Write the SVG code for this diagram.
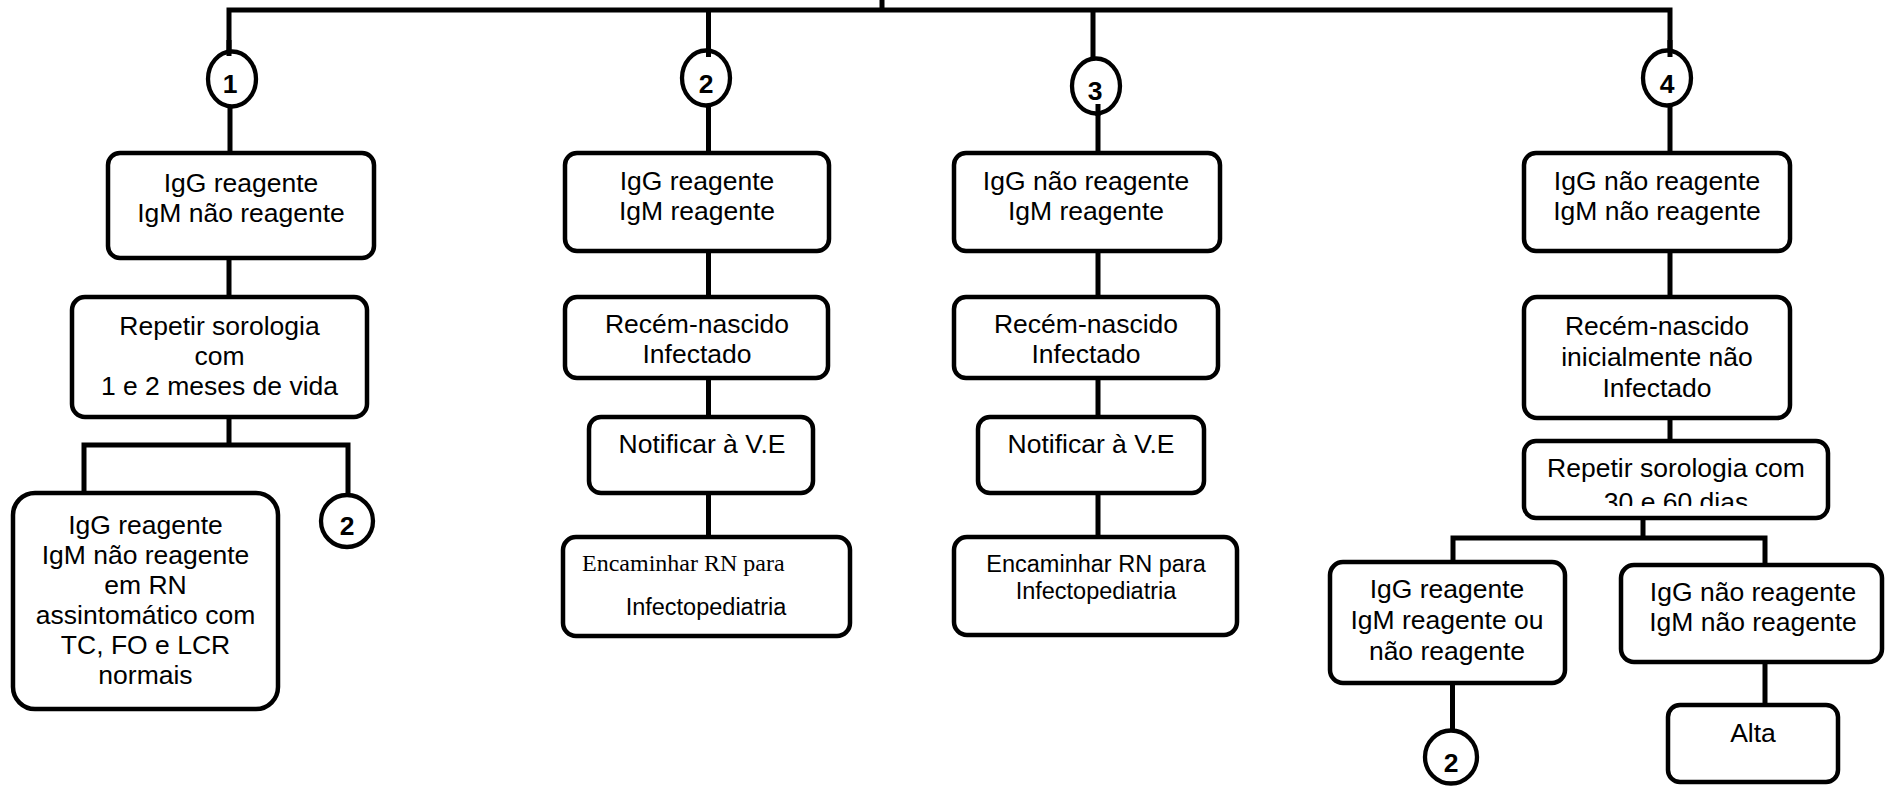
<svg xmlns="http://www.w3.org/2000/svg" width="1885" height="786" viewBox="0 0 1885 786">
<defs>
<style>
.box{fill:#fff;stroke:#000;stroke-width:4.5}
.ell{fill:#fff;stroke:#000;stroke-width:4.3}
.ln{fill:none;stroke:#000;stroke-width:5;stroke-linejoin:miter}
.t{font-family:"Liberation Sans",Arial,sans-serif;font-size:26.5px;fill:#000;text-anchor:middle}
.s{font-family:"Liberation Sans",Arial,sans-serif;font-size:23.5px;fill:#000;text-anchor:middle}
.tr{font-family:"Liberation Serif","Times New Roman",serif;font-size:24px;fill:#000}
.n{font-family:"Liberation Sans",Arial,sans-serif;font-size:26.5px;font-weight:bold;fill:#000;text-anchor:middle}
</style>
<clipPath id="clip30"><rect x="1525" y="444" width="300" height="62"/></clipPath>
</defs>
<rect width="1885" height="786" fill="#fff"/>

<g id="connectors">
<path class="ln" d="M882 0V10M229 56V10H1670V56"/>
<path class="ln" d="M708.5 10V57M1093 10V57"/>
<path class="ln" d="M230 108V153M229 259V297M229 417V445M84 493V445H348V495"/>
<path class="ln" d="M708.5 107V153M708.5 251V297M708.5 378V417M708.5 493V537"/>
<path class="ln" d="M1098 108V153M1098 251V297M1098 378V417M1098 493V537"/>
<path class="ln" d="M1670 106V153M1670 251V297M1670 418V441M1643 518V538M1453 562V538H1765V565M1452.5 683V731M1765 662V705"/>
</g>

<g id="c1"><ellipse class="ell" cx="232" cy="79" rx="24" ry="27.5"/><text class="n" x="230" y="93">1</text></g>
<g id="c2"><ellipse class="ell" cx="706" cy="78" rx="24" ry="27.5"/><text class="n" x="706" y="93">2</text></g>
<g id="c3"><ellipse class="ell" cx="1096" cy="86" rx="24" ry="27.5"/><text class="n" x="1095" y="100">3</text></g>
<g id="c4"><ellipse class="ell" cx="1667" cy="78" rx="24" ry="27.5"/><text class="n" x="1667" y="93">4</text></g>
<g id="stubs"><path class="ln" d="M229 40V56M708.5 40V57M1670 40V57M1098 104V116"/></g>

<g id="b1"><rect class="box" x="108" y="153" width="266" height="105" rx="12"/>
<text class="t" x="241" y="192">IgG reagente</text><text class="t" x="241" y="222">IgM não reagente</text></g>
<g id="r1"><rect class="box" x="72" y="297" width="295" height="120" rx="13"/>
<text class="t" x="219.5" y="335">Repetir sorologia</text><text class="t" x="219.5" y="365">com</text><text class="t" x="219.5" y="395">1 e 2 meses de vida</text></g>
<g id="bl1"><rect class="box" x="13" y="493" width="265" height="216" rx="22"/>
<text class="t" x="145.5" y="534">IgG reagente</text><text class="t" x="145.5" y="564">IgM não reagente</text><text class="t" x="145.5" y="594">em RN</text><text class="t" x="145.5" y="624">assintomático com</text><text class="t" x="145.5" y="654">TC, FO e LCR</text><text class="t" x="145.5" y="684">normais</text></g>
<g id="c1b"><circle class="ell" cx="347" cy="521" r="26"/><text class="n" x="347" y="535">2</text></g>

<g id="b2"><rect class="box" x="565" y="153" width="264" height="98" rx="12"/>
<text class="t" x="697" y="190">IgG reagente</text><text class="t" x="697" y="220">IgM reagente</text></g>
<g id="r2"><rect class="box" x="565" y="297" width="263" height="81" rx="12"/>
<text class="t" x="697" y="333">Recém-nascido</text><text class="t" x="697" y="363">Infectado</text></g>
<g id="n2"><rect class="box" x="589" y="417" width="224" height="76" rx="12"/>
<text class="t" x="702" y="453">Notificar à V.E</text></g>
<g id="e2"><rect class="box" x="563" y="537" width="287" height="99" rx="13"/>
<text class="tr" x="582" y="571">Encaminhar RN para</text><text class="s" x="706" y="615">Infectopediatria</text></g>

<g id="b3"><rect class="box" x="954" y="153" width="266" height="98" rx="12"/>
<text class="t" x="1086" y="190">IgG não reagente</text><text class="t" x="1086" y="220">IgM reagente</text></g>
<g id="r3"><rect class="box" x="954" y="297" width="264" height="81" rx="12"/>
<text class="t" x="1086" y="333">Recém-nascido</text><text class="t" x="1086" y="363">Infectado</text></g>
<g id="n3"><rect class="box" x="978" y="417" width="226" height="76" rx="12"/>
<text class="t" x="1091" y="453">Notificar à V.E</text></g>
<g id="e3"><rect class="box" x="954" y="537" width="283" height="98" rx="13"/>
<text class="s" x="1096" y="572">Encaminhar RN para</text><text class="s" x="1096" y="599">Infectopediatria</text></g>

<g id="b4"><rect class="box" x="1524" y="153" width="266" height="98" rx="12"/>
<text class="t" x="1657" y="190">IgG não reagente</text><text class="t" x="1657" y="220">IgM não reagente</text></g>
<g id="r4"><rect class="box" x="1524" y="297" width="266" height="121" rx="13"/>
<text class="t" x="1657" y="335">Recém-nascido</text><text class="t" x="1657" y="366">inicialmente não</text><text class="t" x="1657" y="397">Infectado</text></g>
<g id="s4"><rect class="box" x="1524" y="441" width="304" height="77" rx="12"/>
<text class="t" x="1676" y="477">Repetir sorologia com</text><text class="t" x="1676" y="511" clip-path="url(#clip30)">30 e 60 dias</text></g>
<g id="l4"><rect class="box" x="1330" y="562" width="235" height="121" rx="13"/>
<text class="t" x="1447" y="598">IgG reagente</text><text class="t" x="1447" y="629">IgM reagente ou</text><text class="t" x="1447" y="660">não reagente</text></g>
<g id="rr4"><rect class="box" x="1621" y="565" width="261" height="97" rx="13"/>
<text class="t" x="1753" y="601">IgG não reagente</text><text class="t" x="1753" y="631">IgM não reagente</text></g>
<g id="c4b"><ellipse class="ell" cx="1451" cy="757" rx="26" ry="26.5"/><text class="n" x="1451" y="772">2</text></g>
<g id="alta"><rect class="box" x="1668" y="705" width="170" height="77" rx="12"/>
<text class="t" x="1753" y="742">Alta</text></g>
</svg>
